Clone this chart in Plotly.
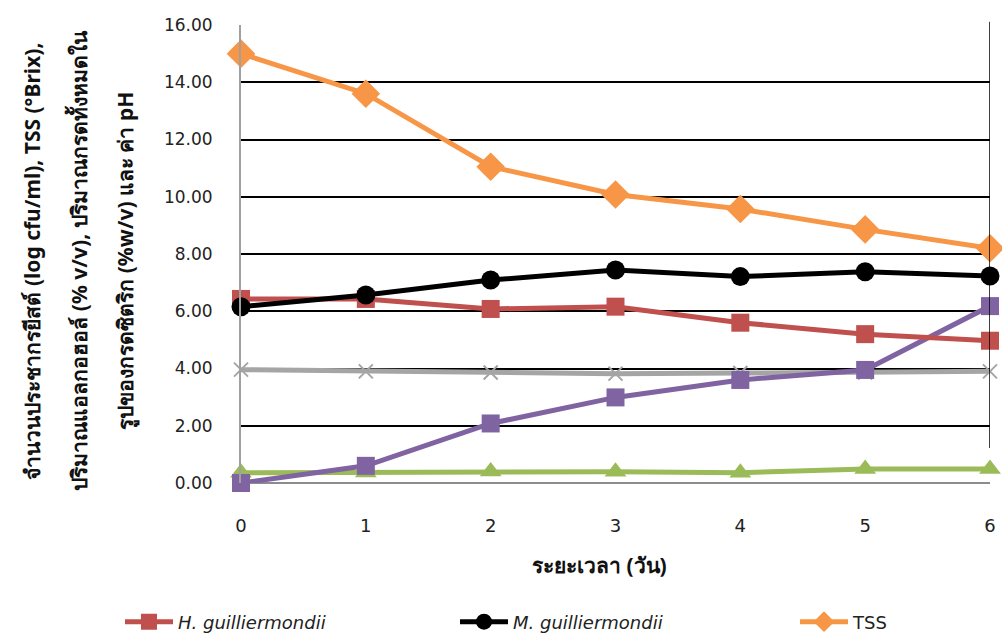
import plotly.graph_objects as go

# Fermentation day
days = [0, 1, 2, 3, 4, 5, 6]

# Yeast counts (log cfu/ml)
h_guilliermondii = [6.43, 6.43, 6.08, 6.16, 5.60, 5.20, 4.97]
m_guilliermondii = [6.16, 6.57, 7.09, 7.44, 7.21, 7.38, 7.23]
# Total soluble solids (°Brix)
tss = [15.0, 13.6, 11.05, 10.08, 9.57, 8.86, 8.2]
# pH
ph = [3.96, 3.90, 3.86, 3.82, 3.84, 3.86, 3.90]
# Alcohol (% v/v)
alcohol = [0.0, 0.6, 2.08, 2.99, 3.6, 3.95, 6.18]
# Total acidity as citric acid (% w/v)
acidity = [0.36, 0.37, 0.40, 0.39, 0.36, 0.49, 0.49]

y_ticks = [0, 2, 4, 6, 8, 10, 12, 14, 16]
y_tick_text = [f"{v:.2f}" for v in y_ticks]

y_title_lines = [
    "จำนวนประชากรยีสต์ (log cfu/ml), TSS (°Brix),",
    "ปริมาณแอลกอฮอล์ (% v/v), ปริมาณกรดทั้งหมดใน",
    "รูปของกรดซิตริก (%w/v) และ ค่า pH",
]
x_title = "ระยะเวลา (วัน)"

FONT = "DejaVu Sans, Noto Sans, sans-serif"
TITLE_FONT = "Noto Sans, DejaVu Sans, sans-serif"

fig = go.Figure()

# Series drawn back to front
fig.add_trace(go.Scatter(
    x=days, y=acidity, mode="lines+markers", name="กรดทั้งหมด",
    line=dict(color="#9BBB59", width=5),
    marker=dict(symbol="triangle-up", size=19, color="#9BBB59"),
    showlegend=False, cliponaxis=False,
))
fig.add_trace(go.Scatter(
    x=days, y=ph, mode="lines+markers", name="pH",
    line=dict(color="#A5A5A5", width=5),
    marker=dict(symbol="x-thin", size=14, color="#A5A5A5",
                line=dict(color="#A5A5A5", width=2)),
    showlegend=False, cliponaxis=False,
))
fig.add_trace(go.Scatter(
    x=days, y=alcohol, mode="lines+markers", name="แอลกอฮอล์",
    line=dict(color="#8064A2", width=5),
    marker=dict(symbol="square", size=18, color="#8064A2"),
    showlegend=False, cliponaxis=False,
))
fig.add_trace(go.Scatter(
    x=days, y=h_guilliermondii, mode="lines+markers",
    name="<i>H. guilliermondii</i>",
    line=dict(color="#C0504D", width=5),
    marker=dict(symbol="square", size=18, color="#C0504D"),
    legend="legend", cliponaxis=False,
))
fig.add_trace(go.Scatter(
    x=days, y=m_guilliermondii, mode="lines+markers",
    name="<i>M. guilliermondii</i>",
    line=dict(color="#000000", width=5),
    marker=dict(symbol="circle", size=19, color="#000000"),
    legend="legend2", cliponaxis=False,
))
fig.add_trace(go.Scatter(
    x=days, y=tss, mode="lines+markers", name="TSS",
    line=dict(color="#F79646", width=5),
    marker=dict(symbol="diamond", size=22, color="#F79646"),
    legend="legend3", cliponaxis=False,
))

legend_common = dict(
    orientation="h", xref="container", yref="container",
    yanchor="middle", xanchor="left", y=1 - 622 / 633,
    font=dict(family=FONT, size=18, color="#222222"),
    bgcolor="rgba(0,0,0,0)", itemwidth=48,
)

annotations = []
for i, line in enumerate(y_title_lines):
    annotations.append(dict(
        text=f"<b>{line}</b>", textangle=-90,
        xref="paper", yref="paper", x=(30 + 47.5 * i - 241) / 755, y=0.485,
        xanchor="center", yanchor="middle", showarrow=False,
        font=dict(family=TITLE_FONT, size=21, color="#111111"),
    ))
annotations.append(dict(
    text=f"<b>{x_title}</b>", xref="paper", yref="paper",
    x=(602 - 241) / 755, y=-(565 - 483) / 458, xanchor="center", yanchor="middle",
    showarrow=False, font=dict(family=TITLE_FONT, size=21, color="#111111"),
))

fig.update_layout(
    width=1002, height=633,
    margin=dict(l=241, r=6, t=25, b=150),
    paper_bgcolor="white", plot_bgcolor="white",
    font=dict(family=FONT, size=17, color="#222222"),
    annotations=annotations,
    legend=dict(legend_common, x=120 / 1002),
    legend2=dict(legend_common, x=455 / 1002),
    legend3=dict(legend_common, x=795 / 1002),
    shapes=[dict(
        type="line", xref="x", yref="paper", x0=6, x1=6,
        y0=(483 - 448) / 458, y1=1.007,
        line=dict(color="black", width=1.5),
    )],
)

fig.update_xaxes(
    range=[0, 6], tickvals=days, ticktext=[str(d) for d in days],
    showgrid=False, zeroline=False, showline=False, ticks="",
    ticklabelstandoff=30, tickfont=dict(size=18),
)
fig.update_yaxes(
    range=[0, 16], tickvals=y_ticks, ticktext=y_tick_text,
    showgrid=True, gridcolor="black", gridwidth=1.5,
    zeroline=True, zerolinecolor="#8C8C8C", zerolinewidth=2,
    showline=True, linecolor="#A0A0A0", linewidth=2,
    ticks="", ticklabelstandoff=23, tickfont=dict(size=17),
)

fig.write_html("out.html")
